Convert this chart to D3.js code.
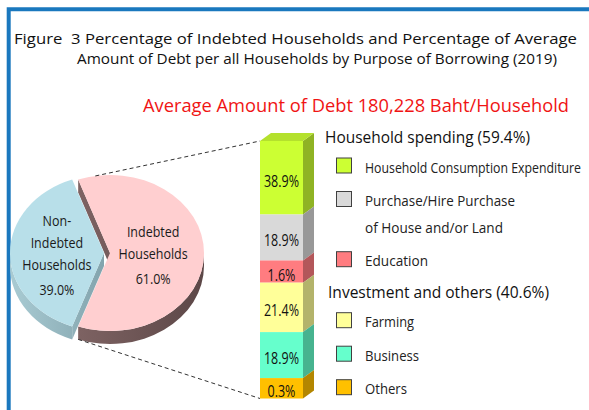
<!DOCTYPE html>
<html>
<head>
<meta charset="utf-8">
<script src="https://cdn.jsdelivr.net/npm/d3@7"></script>
<style>
  html, body { margin: 0; padding: 0; background: #fff; }
  svg { display: block; font-family: "Open Sans", "Noto Sans", sans-serif; }
  text { white-space: pre; }
</style>
</head>
<body>
<svg id="chart" width="589" height="410"></svg>
<script>
// --- data ---
const pieNames = [['Indebted', 'Households'], ['Non-', 'Indebted', 'Households']];
const pieValues = [61.0, 39.0];
const pieColors = ['#ffcfd0', '#b8dfe9'];
const pieSideColors = [['#8e7070', '#5c4747'], ['#a9cbd3', '#5d7e88']];

const purposes = [
  ['Household Consumption Expenditure'],
  ['Purchase/Hire Purchase', 'of House and/or Land'],
  ['Education'],
  ['Farming'],
  ['Business'],
  ['Others']
];
const debtShares = [38.9, 18.9, 1.6, 21.4, 18.9, 0.3];
const purposeColors = ['#ccff33', '#d9d9d9', '#ff7c80', '#ffff99', '#66ffcc', '#ffc000'];
const groupNames = ['Household spending (59.4%)', 'Investment and others (40.6%)'];
const purposeGroup = [0, 0, 0, 1, 1, 1];

const titleLines = [
  'Figure  3 Percentage of Indebted Households and Percentage of Average',
  'Amount of Debt per all Households by Purpose of Borrowing (2019)'
];
const subtitle = 'Average Amount of Debt 180,228 Baht/Household';

const svg = d3.select('#chart');
const defs = svg.append('defs');

// squeeze a text to a given width (source font is narrower than ours)
function fit(sel, w) {
  sel.attr('textLength', w).attr('lengthAdjust', 'spacingAndGlyphs');
}
function squeeze(sel, f) {
  sel.each(function() {
    d3.select(this).call(fit, this.getComputedTextLength() * f);
  });
}

// blue frame
svg.append('path')
  .attr('d', 'M8.7,410V9.3H589')
  .attr('fill', 'none')
  .attr('stroke', '#1a78be')
  .attr('stroke-width', 4);

// titles
svg.append('text').attr('x', 14).attr('y', 44)
  .attr('font-size', 15).attr('fill', '#111')
  .text(titleLines[0]).call(fit, 563);
svg.append('text').attr('x', 77).attr('y', 64)
  .attr('font-size', 14.5).attr('fill', '#111')
  .text(titleLines[1]).call(fit, 480);
svg.append('text').attr('x', 143).attr('y', 112)
  .attr('font-size', 18).attr('fill', '#f01414')
  .text(subtitle).call(fit, 426);

// --- 3D pie ---
const cx0 = 107, cy0 = 253, rx = 94, ry = 78, depth = 13, explode = 3;
const k = ry / rx;
const D = depth / k;
const startA = Math.PI / 2 - Math.PI * pieValues[0] / d3.sum(pieValues);
const pie = d3.pie().sort(null).startAngle(startA).endAngle(startA + 2 * Math.PI);
const arcs = pie(pieValues);
const arcGen = d3.arc().innerRadius(0).outerRadius(rx);

arcs.forEach((d, i) => {
  const a0 = d.startAngle - Math.PI / 2, a1 = d.endAngle - Math.PI / 2;
  const mid = (a0 + a1) / 2;
  d.cx = cx0 + explode * Math.cos(mid);
  d.cy = cy0 + explode * Math.sin(mid) * k;
  d.a0 = a0; d.a1 = a1; d.mid = mid;
  const g = defs.append('linearGradient')
    .attr('id', 'side' + i)
    .attr('gradientUnits', 'userSpaceOnUse')
    .attr('x1', -rx).attr('x2', rx).attr('y1', 0).attr('y2', 0);
  g.append('stop').attr('offset', '0%').attr('stop-color', pieSideColors[i][0]);
  g.append('stop').attr('offset', '100%').attr('stop-color', pieSideColors[i][1]);
});

const pieG = svg.append('g');
const slices = arcs.map(d => pieG.append('g')
  .attr('transform', `translate(${d.cx},${d.cy}) scale(1,${k})`));

// sides first
arcs.forEach((d, i) => {
  const g = slices[i];
  const fill = `url(#side${i})`;
  // outer rim, only the front half
  [-2 * Math.PI, 0, 2 * Math.PI].forEach(n => {
    const lo = Math.max(d.a0, n), hi = Math.min(d.a1, Math.PI + n);
    if (hi > lo) {
      const p = d3.path();
      p.moveTo(rx * Math.cos(lo), rx * Math.sin(lo));
      p.arc(0, 0, rx, lo, hi, false);
      p.lineTo(rx * Math.cos(hi), rx * Math.sin(hi) + D);
      p.arc(0, D, rx, hi, lo, true);
      p.closePath();
      g.append('path').attr('d', p.toString()).attr('fill', fill);
    }
  });
  // radial walls facing the viewer
  [[d.a0, Math.cos(d.a0) < 0], [d.a1, Math.cos(d.a1) > 0]].forEach(([a, vis]) => {
    if (!vis) return;
    const p = d3.path();
    p.moveTo(0, 0);
    p.lineTo(rx * Math.cos(a), rx * Math.sin(a));
    p.lineTo(rx * Math.cos(a), rx * Math.sin(a) + D);
    p.lineTo(0, D);
    p.closePath();
    g.append('path').attr('d', p.toString()).attr('fill', fill);
  });
});
// then faces
arcs.forEach((d, i) => {
  slices[i].append('path').attr('d', arcGen(d)).attr('fill', pieColors[i]);
});

// pie labels
arcs.forEach((d, i) => {
  const lx = d.cx + rx * 0.48 * Math.cos(d.mid) - 2;
  const lines = pieNames[i].concat([pieValues[i].toFixed(1) + '%']);
  const n = lines.length;
  const t = svg.append('text')
    .attr('text-anchor', 'middle')
    .attr('font-size', 14.5)
    .attr('fill', '#1a1a1a');
  lines.forEach((s, j) => {
    // names 22px apart, percentage 25px below last name
    const y = d.cy + 7 - (n - 1) * 22 / 2 - 1.5 + j * 22 + (j === n - 1 ? 3 : 0);
    t.append('tspan').attr('x', lx).attr('y', y).text(s);
  });
  t.selectAll('tspan').call(squeeze, 0.86);
});

// --- stacked 3D column ---
const barX = 260, barW = 43, barTop = 141, sdx = 11, sdy = -8;
const h = d3.scaleLinear().domain([0, 40]).range([20, 75]);
const ys = [barTop].concat(Array.from(d3.cumsum(debtShares, h), v => barTop + v));
const barBottom = ys[ys.length - 1];

// dashed connectors
const pink = arcs[0];
const upA = pink.a0 + 0.06 * Math.PI;
svg.append('path')
  .attr('d', `M${pink.cx + rx * Math.cos(upA)},${pink.cy + ry * Math.sin(upA)}L${barX},${barTop}`)
  .attr('stroke', '#333').attr('stroke-width', 1).attr('stroke-dasharray', '4,3').attr('fill', 'none');
svg.append('path')
  .attr('d', `M${pink.cx + rx * Math.cos(pink.a1)},${pink.cy + ry * Math.sin(pink.a1) + depth}L${barX},${barBottom}`)
  .attr('stroke', '#333').attr('stroke-width', 1).attr('stroke-dasharray', '4,3').attr('fill', 'none');

const segs = svg.append('g').selectAll('g')
  .data(debtShares)
  .join('g');

segs.append('rect')
  .attr('x', barX).attr('y', (d, i) => ys[i])
  .attr('width', barW).attr('height', (d, i) => ys[i + 1] - ys[i])
  .attr('fill', (d, i) => purposeColors[i]);

segs.append('path')
  .attr('d', (d, i) => `M${barX + barW},${ys[i]}l${sdx},${sdy}V${ys[i + 1] + sdy}l${-sdx},${-sdy}Z`)
  .attr('fill', (d, i) => d3.color(purposeColors[i]).darker(1));

// top of the column
svg.append('path')
  .attr('d', `M${barX},${barTop}l${sdx},${sdy}h${barW}l${-sdx},${-sdy}Z`)
  .attr('fill', d3.color(purposeColors[0]).darker(0.35));

segs.append('text')
  .attr('x', barX + barW / 2)
  .attr('y', (d, i) => (ys[i] + ys[i + 1]) / 2 + 9)
  .attr('text-anchor', 'middle')
  .attr('font-size', 16)
  .attr('fill', '#111')
  .text(d => d.toFixed(1) + '%')
  .call(squeeze, 0.78);

// --- legend ---
const legX = 336, textX = 365;
const headerW = [205, 221];
const itemW = [[216], [150, 138], [63], [49], [54], [42]];
let y = 143;
let lastGroup = -1;
purposes.forEach((lines, i) => {
  const gi = purposeGroup[i];
  if (gi !== lastGroup) {
    if (lastGroup >= 0) y += 31.5;
    svg.append('text')
      .attr('x', gi === 0 ? 325 : 328).attr('y', y)
      .attr('font-size', 16).attr('fill', '#111')
      .text(groupNames[gi]).call(fit, headerW[gi]);
    y += 29.5;
    lastGroup = gi;
  } else {
    y += 33.5;
  }
  svg.append('rect')
    .attr('x', legX + 0.5).attr('y', y - 14.5)
    .attr('width', 15).attr('height', 15)
    .attr('fill', purposeColors[i])
    .attr('stroke', '#404040').attr('stroke-width', 1);
  lines.forEach((s, j) => {
    if (j > 0) y += 26.7;
    svg.append('text')
      .attr('x', textX).attr('y', y)
      .attr('font-size', 14.5).attr('fill', '#222')
      .text(s).call(fit, itemW[i][j]);
  });
});
</script>
</body>
</html>
